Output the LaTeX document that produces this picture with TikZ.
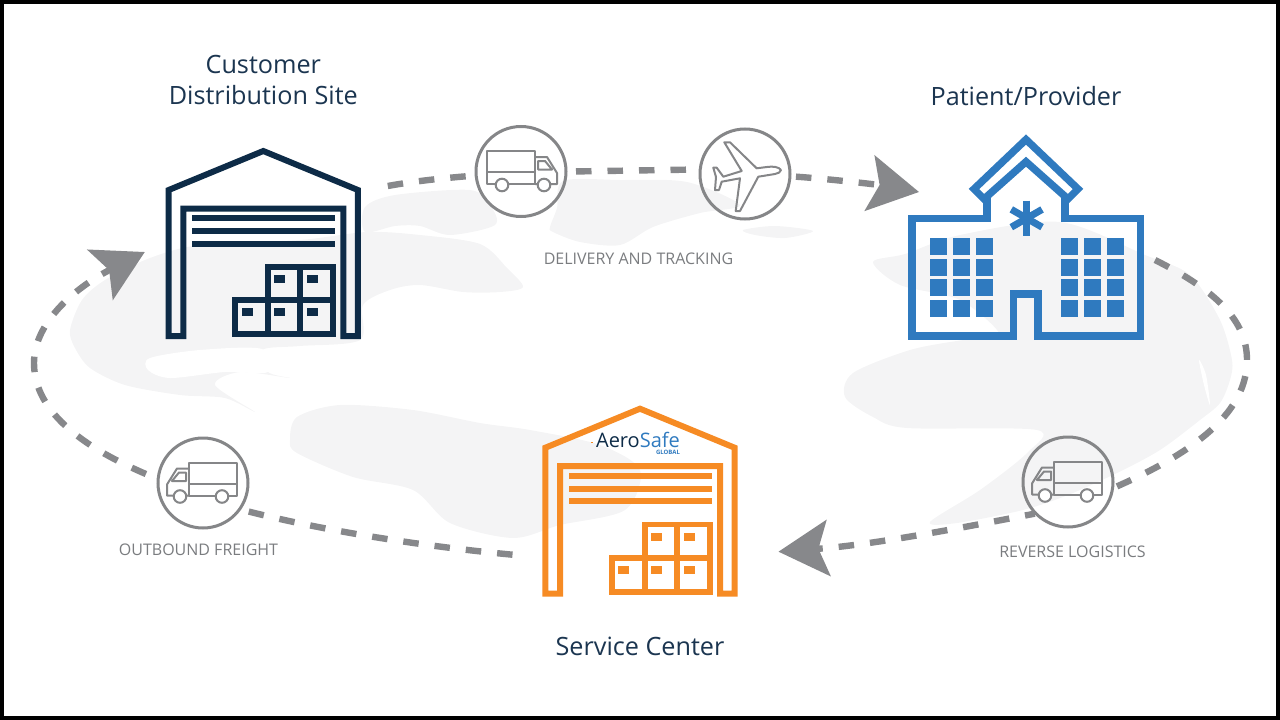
\documentclass[tikz,border=0pt]{standalone}
\usepackage{fontspec}
\setmainfont{Open Sans}
\usetikzlibrary{arrows.meta, positioning}

\definecolor{sitecol}{HTML}{0D2B47}
\definecolor{hospcol}{HTML}{2F7ABF}
\definecolor{servcol}{HTML}{F68B24}
\definecolor{flowcol}{HTML}{87888B}
\definecolor{hubcol}{HTML}{858688}
\definecolor{textcol}{HTML}{7A7C7F}
\definecolor{titlecol}{HTML}{1B3550}
\definecolor{mapcol}{HTML}{F4F4F5}

\tikzset{
 warehouse/.pic={
   \draw[line width=6,miter limit=10] (-94.6,93) -- (-94.6,-53) -- (0,-92) -- (94.6,-53) -- (94.6,93)
     -- (80,93) -- (80,-34.5) -- (-80,-34.5) -- (-80,93) -- cycle;
   \foreach \y in {-24.7,-12,0.7} {
    \draw[line width=6] (-71,\y) -- (72,\y);}
   \draw[line width=5.8] (-28.3,57.3) rectangle (70,91);
   \draw[line width=5.8] (4.7,23.7) rectangle (70,57.3);
   \draw[line width=5.8] (4.7,23.7) -- (4.7,91) (37,23.7) -- (37,91);
   \foreach \x/\y in {16/36, 49/36, -16.3/69.3, 16/69.3, 49/69.3} {
    \fill (\x,\y) +(-5.5,-4) rectangle +(5.5,4);}
 },
 hospital/.pic={
   \draw[line width=7.4,miter limit=10] (-39,-41) -- (-39,-18.7) -- (-114,-18.7) -- (-114,99) -- (-12.7,99)
     -- (-12.7,57) -- (12,57) -- (12,99) -- (114.5,99) -- (114.5,-18.7) -- (39,-18.7) -- (39,-41);
   \draw[line width=7.4,miter limit=10] (0,-97.5) -- (-52,-48) -- (-42,-38) -- (0,-75.3) -- (42,-38) -- (52,-48) -- cycle;
   \foreach \a in {0,60,120} {
    \draw[line width=7,rotate around={\a:(0.7,-18.7)}] (0.7,-36.5) -- (0.7,-1);}
   \foreach \x in {-88,-65,-42,43,66,89} {
    \foreach \y in {9,30,50.5,71} {
     \fill (\x,\y) +(-8.5,-8.5) rectangle +(8.5,8.5);}}
 },
 truck/.pic={
   \draw[line width=2,line join=round] (-34,-20.5) rectangle (14,12.5) (-34,0.5) -- (14,0.5);
   \draw[line width=2,line join=round] (14,-14.5) -- (26,-14.5) -- (36,1.5) -- (36,12.5) -- (29.5,12.5)
     (16.5,12.5) -- (14,12.5) (17,-10.5) -- (24,-10.5) -- (31,-2) -- (17,-2) -- cycle;
   \draw[line width=2,fill=white] (-19,13.5) circle (6.3) (23,13.5) circle (6.3);
 },
 plane/.pic={
   \draw[line width=2,line join=round] (36,-4) .. controls (34,-7) and (28,-8) .. (22,-7) -- (11.7,-5.7)
     -- (-15,-31.7) -- (-20.7,-31.7) -- (-3.3,-3) -- (-21.7,2.7) -- (-28.3,-6.3) -- (-31.7,-6.3) -- (-29,3)
     -- (-30,16) -- (-26,16) -- (-23.3,7.7) -- (-5,4.3) -- (-9.3,37) -- (-5,37) -- (13.3,2.7) -- (30,0)
     .. controls (33,-0.5) and (36,-2) .. (36,-4) -- cycle;
 }
}

\begin{document}
\begin{tikzpicture}[x=1pt,y=-1pt,
 hub node/.style={circle,draw=hubcol,line width=3,minimum size=90,inner sep=0,outer sep=6},
 bldg node/.style={inner sep=0,outer sep=0,minimum width=195,minimum height=191},
 title node/.style={font=\fontsize{25.2}{31.5}\selectfont,text=titlecol,align=center,inner sep=0},
 tag node/.style={font=\fontsize{16}{18}\selectfont,text=textcol,inner sep=0},
 flow/.style={draw=flowcol,line width=6.4,dash pattern=on 15.5pt off 16pt,
   -{Stealth[length=50pt,width=56pt,inset=10pt]}},
 leg/.style={draw=flowcol,line width=6.4,dash pattern=on 15.5pt off 16pt}]
  \useasboundingbox (0,0) rectangle (1280,720);

  % world map behind everything
  \fill[mapcol] plot[smooth cycle,tension=.5] coordinates {(70,330) (82,300) (105,280) (150,258) (200,245) (300,240) (367,232) (420,235) (480,244) (507,268) (523,287) (500,292) (463,292) (420,285) (390,290) (363,305) (360,340) (300,346) (262,350) (268,372) (290,378) (240,372) (215,385) (255,412) (225,398) (180,395) (125,385) (90,368) (75,348)};
  \fill[white] plot[smooth cycle,tension=.5] coordinates {(150,358) (200,350) (262,349) (268,372) (225,372) (170,378) (148,370)};
  \fill[mapcol] plot[smooth cycle,tension=.5] coordinates {(365,207) (395,195) (470,190) (490,205) (495,225) (450,235) (420,226) (395,226) (365,232)};
  \fill[mapcol] plot[smooth cycle,tension=.5] coordinates {(290,440) (297,417) (340,405) (413,410) (480,423) (530,430) (600,445) (640,470) (625,510) (560,525) (513,538) (450,523) (413,490) (353,477) (297,453)};
  \fill[mapcol] plot[smooth cycle,tension=.5] coordinates {(550,227) (557,208) (563,181) (620,180) (687,182) (740,205) (700,213) (653,227) (620,245) (580,242) (553,232)};
  \fill[mapcol] plot[smooth cycle,tension=.5] coordinates {(743,230) (775,226) (813,231) (785,238) (755,235)};
  \fill[mapcol] plot[smooth cycle,tension=.5] coordinates {(873,262) (905,254) (960,235) (1060,222) (1145,255) (1190,275) (1220,320) (1232,360) (1230,380) (1220,403) (1200,420) (1160,450) (1117,473) (1068,495) (1023,510) (957,523) (930,522) (980,490) (1027,453) (1037,430) (907,428) (873,417) (845,397) (853,373) (910,350) (963,340) (1000,335) (960,300) (900,285)};
  \fill[white] plot[smooth cycle,tension=.5] coordinates {(1199,360) (1206,375) (1210,405) (1204,385)};
  \draw[line width=4,black] (2,2) rectangle (1278,717.5);

  \node[bldg node] (site) at (263.3,243) {};
  \node[bldg node] (service) at (640,500.7) {};
  \node[bldg node,minimum width=236,minimum height=206] (hospital) at (1026,237) {};
  \node[hub node] (hub1) at (521,171.5) {};
  \node[hub node] (hub2) at (745,174) {};
  \node[hub node] (hub3) at (203,483) {};
  \node[hub node] (hub4) at (1068,482) {};

  \node[title node] (sitetitle) [above=42.5pt of site] {Customer\\Distribution Site};
  \node[title node] (hosptitle) [above=28pt of hospital] {Patient/Provider};
  \node[title node] (servtitle) [below=41pt of service] {Service Center};
  \node[tag node] (tag1) at (638.5,258.5) {DELIVERY AND TRACKING};
  \node[tag node,xshift=-4.5] (tag3) [below=10pt of hub3] {OUTBOUND FREIGHT};
  \node[tag node,xshift=4.5] (tag4) [below=13pt of hub4] {REVERSE LOGISTICS};

  \pic[color=sitecol] at (site) {warehouse};
  \pic[color=servcol] at (service) {warehouse};
  \pic[color=hospcol] at (hospital) {hospital};
  \pic[color=hubcol] at (hub1) {truck};
  \pic[color=hubcol] at (hub2) {plane};
  \pic[color=hubcol,xscale=-1] at (hub3) {truck};
  \pic[color=hubcol,xscale=-1] at (hub4) {truck};

  \node[inner sep=0,font=\fontsize{20}{20}\selectfont,text=sitecol] (logo) at (638,439.5) {Aero\textcolor{hospcol}{Safe}};
  \node[inner sep=0,font=\fontsize{6}{6}\selectfont\bfseries,text=hospcol] (logosub) [below left=2pt and 0pt of logo.south east] {GLOBAL};
  \fill[servcol] (logo.west) ++(-5,2) rectangle ++(2.5,1.5);

  \coordinate (siteout) at ([shift={(27,-57)}]site.east);
  \coordinate (sitein) at ([shift={(-216,9)}]site.east);
  \coordinate (hospin) at ([shift={(11,-45)}]hospital.west);
  \coordinate (hospout) at ([shift={(11,23)}]hospital.east);
  \coordinate (servout) at ([shift={(-30,54)}]service.west);
  \coordinate (servin) at ([shift={(41,51)}]service.east);

  \path[leg] (servout) .. controls (420,546) and (320,530) .. (hub3.-33);
  \path[flow,shorten <=7] (hub3.173) .. controls (90,450) and (34,415) .. (34,363)
     .. controls (34,320) and (80,285) .. (sitein);
  \path[leg] (siteout) .. controls (415,181) and (445,178) .. (hub1.185);
  \path[leg,shorten <=4] (hub1.east) -- (hub2.175);
  \path[flow] (hub2.-3) .. controls (830,179) and (880,185) .. (hospin);
  \path[leg,shorten >=-5,dash pattern=on 15.5pt off 16.4pt] (hospout) .. controls (1215,290) and (1247,320) .. (1247,360)
     .. controls (1247,410) and (1200,450) .. (hub4.-4);
  \path[flow,shorten <=-6,dash phase=5.5pt] (hub4.220) .. controls (950,530) and (870,545) .. (servin);
\end{tikzpicture}
\end{document}
